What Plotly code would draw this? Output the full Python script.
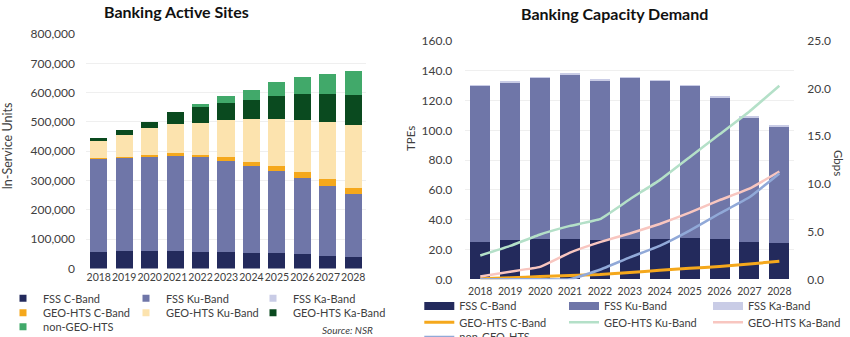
import plotly.graph_objects as go

# ---------------- data ----------------
years = ["2018", "2019", "2020", "2021", "2022", "2023", "2024", "2025", "2026", "2027", "2028"]

# Left chart: Banking Active Sites (in-service units)
sites_fss_c = [56000, 59000, 59000, 59000, 55000, 55000, 54000, 52000, 48500, 43500, 39000]
sites_fss_ku = [320000, 320500, 322500, 326000, 324500, 312000, 297000, 282000, 261500, 239000, 215000]
sites_fss_ka = [0, 0, 0, 0, 0, 0, 0, 0, 0, 0, 0]
sites_geo_c = [1000, 1500, 6500, 8000, 8500, 12500, 13500, 16000, 18000, 21500, 22000]
sites_geo_ku = [59000, 75500, 91500, 101000, 108500, 126500, 144500, 159000, 179000, 195000, 215000]
sites_geo_ka = [8000, 15000, 19500, 40000, 53500, 60000, 67000, 81000, 89500, 97500, 102000]
sites_ngso = [0, 0, 0, 0, 10000, 23000, 33000, 46500, 58000, 68500, 82000]

# Right chart: Banking Capacity Demand
tpe_fss_c = [25.2, 26.2, 26.8, 27.0, 26.2, 27.0, 26.8, 27.7, 26.8, 24.8, 24.6]
tpe_fss_ku = [104.6, 106.1, 108.5, 110.7, 107.6, 108.3, 106.5, 102.1, 95.5, 84.0, 78.2]
tpe_fss_ka = [0.2, 0.2, 0.2, 0.3, 0.2, 0.2, 0.2, 0.2, 0.2, 0.2, 0.2]
gbps_geo_c = [0.05, 0.15, 0.3, 0.4, 0.5, 0.7, 0.95, 1.15, 1.35, 1.6, 1.9]
gbps_geo_ku = [2.5, 3.5, 4.7, 5.6, 6.3, 8.4, 10.4, 12.8, 15.2, 17.6, 20.3]
gbps_geo_ka = [0.3, 0.8, 1.3, 2.8, 3.9, 4.8, 5.8, 7.0, 8.3, 9.5, 11.3]
gbps_ngso = [0.0, 0.0, 0.0, 0.0, 1.0, 2.3, 3.5, 5.1, 6.9, 8.6, 11.1]

names = ["FSS C-Band", "FSS Ku-Band", "FSS Ka-Band", "GEO-HTS C-Band",
         "GEO-HTS Ku-Band", "GEO-HTS Ka-Band", "non-GEO-HTS"]
colors = ["#232a5c", "#6f76a8", "#c9cce6", "#f5a81c", "#fce3ae", "#0a4a1f", "#41a96a"]
line_colors = {"GEO-HTS C-Band": "#f5a81c", "GEO-HTS Ku-Band": "#b4e0c8",
               "GEO-HTS Ka-Band": "#f8c6c0", "non-GEO-HTS": "#91a9d8"}

W, H = 850, 337
def px(x):
    return x / W
def py(y):
    return 1 - y / H

FONT = "Lato"
TXT = "#404040"

fig = go.Figure()

# ---------------- left chart bars ----------------
left_series = [sites_fss_c, sites_fss_ku, sites_fss_ka, sites_geo_c, sites_geo_ku, sites_geo_ka, sites_ngso]
for nm, col, vals in zip(names, colors, left_series):
    fig.add_trace(go.Bar(x=years, y=vals, name=nm, marker=dict(color=col, line=dict(width=0)),
                         xaxis="x", yaxis="y", showlegend=False))

# left legend (one legend per entry for exact placement)
left_leg_rows = [298.3, 312.7, 326.7]
left_leg_cols = [3, 126, 253]
legends = {}
idx = 1
for i, (nm, col) in enumerate(zip(names, colors)):
    r, c = divmod(i, 3)
    key = "legend" if idx == 1 else f"legend{idx}"
    legends[key] = dict(xref="container", yref="container", x=px(left_leg_cols[c]), y=py(left_leg_rows[r]),
                        xanchor="left", yanchor="middle", orientation="h", bgcolor="rgba(0,0,0,0)",
                        borderwidth=0, font=dict(family=FONT, size=11, color=TXT))
    fig.add_trace(go.Scatter(x=[None], y=[None], mode="markers", name=nm,
                             marker=dict(symbol="square", size=7, color=col),
                             xaxis="x", yaxis="y", legend=key, showlegend=True, hoverinfo="skip"))
    idx += 1

# ---------------- right chart bars ----------------
right_bars = [tpe_fss_c, tpe_fss_ku, tpe_fss_ka]
for nm, col, vals in zip(names[:3], colors[:3], right_bars):
    fig.add_trace(go.Bar(x=years, y=vals, name=nm, marker=dict(color=col, line=dict(width=0)),
                         xaxis="x2", yaxis="y2", showlegend=False))

right_leg_rows = [306, 322.3, 339.5]
right_leg_cols = [419.3, 564, 708]

# legend entries for right bars
for i, (nm, col) in enumerate(zip(names[:3], colors[:3])):
    key = f"legend{idx}"
    legends[key] = dict(xref="container", yref="container", x=px(right_leg_cols[i]), y=py(right_leg_rows[0]),
                        xanchor="left", yanchor="middle", orientation="h", bgcolor="rgba(0,0,0,0)",
                        borderwidth=0, font=dict(family=FONT, size=11, color=TXT))
    fig.add_trace(go.Scatter(x=[None], y=[None], mode="lines", name=nm,
                             line=dict(color=col, width=8),
                             xaxis="x2", yaxis="y2", legend=key, showlegend=True, hoverinfo="skip"))
    idx += 1

# lines on secondary axis
line_series = [("GEO-HTS C-Band", gbps_geo_c, 3), ("GEO-HTS Ku-Band", gbps_geo_ku, 2.5),
               ("GEO-HTS Ka-Band", gbps_geo_ka, 2.5), ("non-GEO-HTS", gbps_ngso, 2.5)]
for j, (nm, vals, wdt) in enumerate(line_series):
    key = f"legend{idx}"
    r, c = divmod(j, 3)
    legends[key] = dict(xref="container", yref="container", x=px(right_leg_cols[c]), y=py(right_leg_rows[1 + r]),
                        xanchor="left", yanchor="middle", orientation="h", bgcolor="rgba(0,0,0,0)",
                        borderwidth=0, font=dict(family=FONT, size=11, color=TXT))
    fig.add_trace(go.Scatter(x=years, y=vals, mode="lines", name=nm,
                             line=dict(color=line_colors[nm], width=wdt, shape="spline", smoothing=0.3),
                             xaxis="x2", yaxis="y3", legend=key, showlegend=True))
    idx += 1

# ---------------- layout ----------------
fig.update_layout(
    width=W, height=H,
    margin=dict(l=0, r=0, t=0, b=0, autoexpand=False),
    paper_bgcolor="white", plot_bgcolor="white",
    barmode="stack", bargap=0.33,
    font=dict(family=FONT, color=TXT),
    showlegend=True,
    **legends,
    xaxis=dict(domain=[px(86), px(366)], anchor="y", type="category", range=[-0.5, 10.5],
               showline=False, ticks="", showgrid=False, zeroline=False, tickangle=0,
               ticklabelstandoff=1,
               tickfont=dict(family=FONT, size=10.5, color=TXT), automargin=False),
    yaxis=dict(domain=[py(268.5), py(34)], anchor="x", range=[0, 800000],
               tickvals=[0, 100000, 200000, 300000, 400000, 500000, 600000, 700000, 800000],
               tickformat=",d", showgrid=True, gridcolor="#efefef", gridwidth=1, zeroline=False,
               showline=False, ticks="", ticklabelstandoff=10,
               tickfont=dict(family=FONT, size=12, color=TXT), automargin=False),
    xaxis2=dict(domain=[px(465.3), px(794.3)], anchor="y2", type="category", range=[-0.5, 10.5],
                showline=False, ticks="", showgrid=False, zeroline=False, tickangle=0,
                ticklabelstandoff=4,
                tickfont=dict(family=FONT, size=10.5, color=TXT), automargin=False),
    yaxis2=dict(domain=[py(279.3), py(40.9)], anchor="x2", range=[0, 160],
                tickvals=[0, 20, 40, 60, 80, 100, 120, 140, 160], tickformat=".1f",
                showgrid=True, gridcolor="#efefef", zeroline=False, showline=False, ticks="",
                ticklabelstandoff=12, tickfont=dict(family=FONT, size=12, color=TXT), automargin=False),
    yaxis3=dict(overlaying="y2", anchor="x2", side="right", range=[0, 25],
                tickvals=[0, 5, 10, 15, 20, 25], tickformat=".1f", showgrid=False, zeroline=False,
                showline=False, ticks="", ticklabelstandoff=12,
                tickfont=dict(family=FONT, size=12, color=TXT), automargin=False),
)

annotations = [
    dict(text="<b>Banking Active Sites</b>", x=px(176.7), y=py(11), xref="paper", yref="paper",
         xanchor="center", yanchor="middle", showarrow=False,
         font=dict(family=FONT, size=16, color="#111111")),
    dict(text="<b>Banking Capacity Demand</b>", x=px(614.7), y=py(13), xref="paper", yref="paper",
         xanchor="center", yanchor="middle", showarrow=False,
         font=dict(family=FONT, size=16, color="#111111")),
    dict(text="In-Service Units", x=px(8), y=py(146.6), xref="paper", yref="paper", textangle=-90,
         xanchor="center", yanchor="middle", showarrow=False,
         font=dict(family=FONT, size=12.5, color=TXT)),
    dict(text="TPEs", x=px(411), y=py(139), xref="paper", yref="paper", textangle=-90,
         xanchor="center", yanchor="middle", showarrow=False,
         font=dict(family=FONT, size=11.5, color=TXT)),
    dict(text="Gbps", x=px(838), y=py(163), xref="paper", yref="paper", textangle=90,
         xanchor="center", yanchor="middle", showarrow=False,
         font=dict(family=FONT, size=11.5, color=TXT)),
    dict(text="<i>Source: NSR</i>", x=px(375), y=py(330), xref="paper", yref="paper",
         xanchor="right", yanchor="middle", showarrow=False,
         font=dict(family=FONT, size=10, color=TXT)),
]
fig.update_layout(annotations=annotations)

fig.write_html("out.html")
